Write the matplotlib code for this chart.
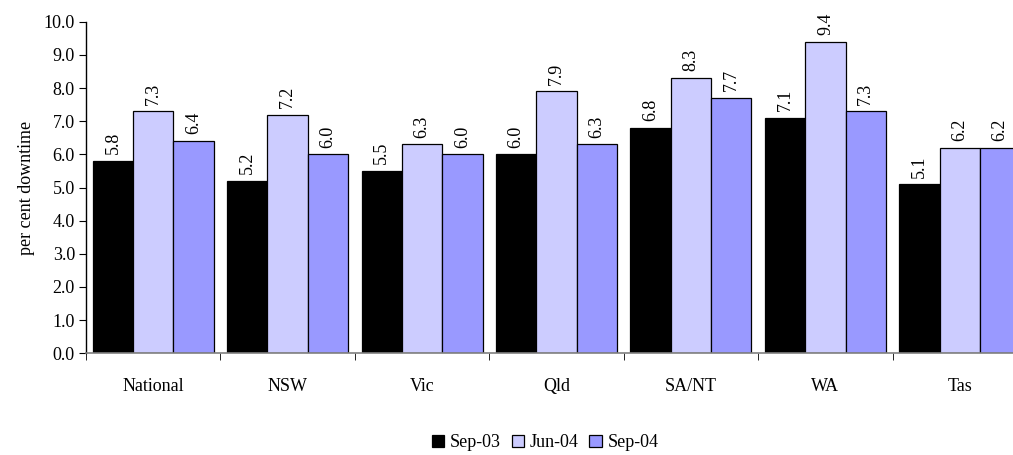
import numpy as np
import matplotlib
matplotlib.use("Agg")
import matplotlib.pyplot as plt
from matplotlib.ticker import FixedLocator

plt.rcParams["font.family"] = ["Liberation Serif", "DejaVu Serif"]

regions = ["National", "NSW", "Vic", "Qld", "SA/NT", "WA", "Tas"]
series_names = ["Sep-03", "Jun-04", "Sep-04"]
sep03 = [5.8, 5.2, 5.5, 6.0, 6.8, 7.1, 5.1]
jun04 = [7.3, 7.2, 6.3, 7.9, 8.3, 9.4, 6.2]
sep04 = [6.4, 6.0, 6.0, 6.3, 7.7, 7.3, 6.2]
colors = ["#000000", "#CCCCFF", "#9999FF"]

fig = plt.figure(figsize=(10.13, 4.55), dpi=100)
ax = fig.add_axes([0.0849, 0.2235, 0.929, 0.7288])

x = np.arange(len(regions))
width = 0.3
for i, (name, vals) in enumerate(zip(series_names, [sep03, jun04, sep04])):
    pos = x + (i - 1) * width
    ax.bar(pos, vals, width, color=colors[i], edgecolor="black",
           linewidth=0.9, label=name)
    for px, v in zip(pos, vals):
        ax.text(px, v + 0.2, f"{v:.1f}", rotation=90, ha="center",
                va="bottom", fontsize=13)

ax.set_xlim(-0.5, len(regions) - 0.5)
ax.set_ylim(0, 10)
yt = np.arange(0, 10.01, 1.0)
ax.set_yticks(yt)
ax.set_yticklabels([f"{v:.1f}" for v in yt], fontsize=13)
ax.set_xticks(x)
ax.set_xticklabels(regions, fontsize=13)
ax.tick_params(axis="x", which="major", length=0, pad=18)
ax.xaxis.set_minor_locator(FixedLocator(np.arange(-0.5, len(regions), 1.0)))
ax.tick_params(axis="x", which="minor", length=5, direction="out", color="black")
ax.tick_params(axis="y", length=5, direction="out", pad=3)

for s in ["top", "right"]:
    ax.spines[s].set_visible(False)
ax.spines["bottom"].set_color("#808080")
ax.spines["bottom"].set_linewidth(1.2)
ax.spines["left"].set_linewidth(1.0)

ax.set_ylabel("per cent downtime", fontsize=13, labelpad=6)

fig.legend(loc="center", bbox_to_anchor=(0.538, 0.027), ncol=3, frameon=False,
           fontsize=13, handlelength=0.7, handleheight=0.7, handletextpad=0.3,
           columnspacing=0.6)

fig.savefig("out.png", dpi=100)
